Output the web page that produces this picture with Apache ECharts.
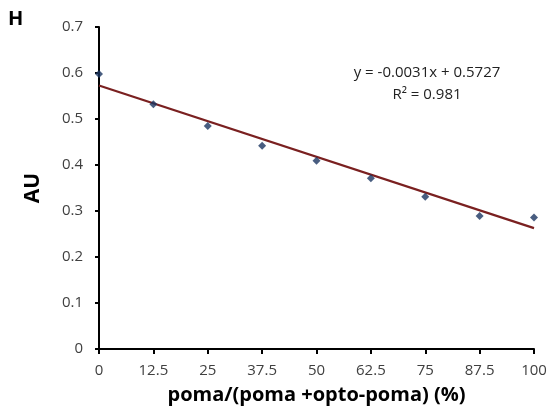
<!DOCTYPE html>
<html>
<head>
<meta charset="utf-8">
<script src="https://cdn.jsdelivr.net/npm/echarts@6/dist/echarts.min.js"></script>
<style>html,body{margin:0;padding:0;background:#fff}#c{width:551px;height:420px}</style>
</head>
<body>
<div id="c"></div>
<script>
var xValues = [0, 12.5, 25, 37.5, 50, 62.5, 75, 87.5, 100];
var auValues = [0.598, 0.532, 0.485, 0.442, 0.409, 0.371, 0.331, 0.289, 0.286];
var slope = -0.0031;
var intercept = 0.5727;
var equationText = 'y = -0.0031x + 0.5727';
var r2Text = 'R² = 0.981';
var panelLabel = 'H';
var yAxisTitle = 'AU';
var xAxisTitle = 'poma/(poma +opto-poma) (%)';

var points = xValues.map(function (x, i) { return [x, auValues[i]]; });
var trend = [[xValues[0], intercept + slope * xValues[0]], [xValues[xValues.length - 1], intercept + slope * xValues[xValues.length - 1]]];

var chart = echarts.init(document.getElementById('c'), null, {renderer: 'canvas'});
var font = 'Open Sans';
chart.setOption({
  animation: false,
  backgroundColor: '#fff',
  grid: {left: 99, right: 17, top: 27, bottom: 71},
  xAxis: {
    type: 'value', min: 0, max: 100, interval: 12.5,
    axisLine: {onZero: false, lineStyle: {color: '#000', width: 2}},
    axisTick: {show: true, length: 5, lineStyle: {color: '#000', width: 2}},
    splitLine: {show: false},
    axisLabel: {color: '#404040', fontFamily: font, fontSize: 15, margin: 14},
    name: xAxisTitle, nameLocation: 'middle', nameGap: 36,
    nameTextStyle: {color: '#000', fontFamily: font, fontSize: 20, fontWeight: 'bold'}
  },
  yAxis: {
    type: 'value', min: 0, max: 0.7, interval: 0.1,
    axisLine: {show: true, lineStyle: {color: '#000', width: 2}},
    axisTick: {show: true, length: 4, lineStyle: {color: '#000', width: 2}},
    splitLine: {show: false},
    axisLabel: {color: '#404040', fontFamily: font, fontSize: 15, margin: 16,
      formatter: function (v) { return v === 0 ? '0' : v.toFixed(1); }},
    name: yAxisTitle, nameLocation: 'middle', nameGap: 55,
    nameTextStyle: {color: '#000', fontFamily: font, fontSize: 21, fontWeight: 'bold'}
  },
  graphic: [
    {type: 'text', left: 8, top: 9, style: {text: panelLabel, fontFamily: font, fontSize: 20, fontWeight: 'bold', fill: '#000'}},
    {type: 'text', x: 427, y: 73, style: {text: equationText, fontFamily: font, fontSize: 15, fill: '#222', align: 'center', verticalAlign: 'middle'}},
    {type: 'text', x: 427, y: 95, style: {text: r2Text, fontFamily: font, fontSize: 15, fill: '#222', align: 'center', verticalAlign: 'middle'}}
  ],
  series: [
    {type: 'line', data: trend, symbol: 'none', lineStyle: {color: '#7a2020', width: 2.2}, z: 2},
    {type: 'scatter', data: points, symbol: 'diamond', symbolSize: 8,
      itemStyle: {color: '#1a3560'}, z: 3}
  ]
});
</script>
</body>
</html>
